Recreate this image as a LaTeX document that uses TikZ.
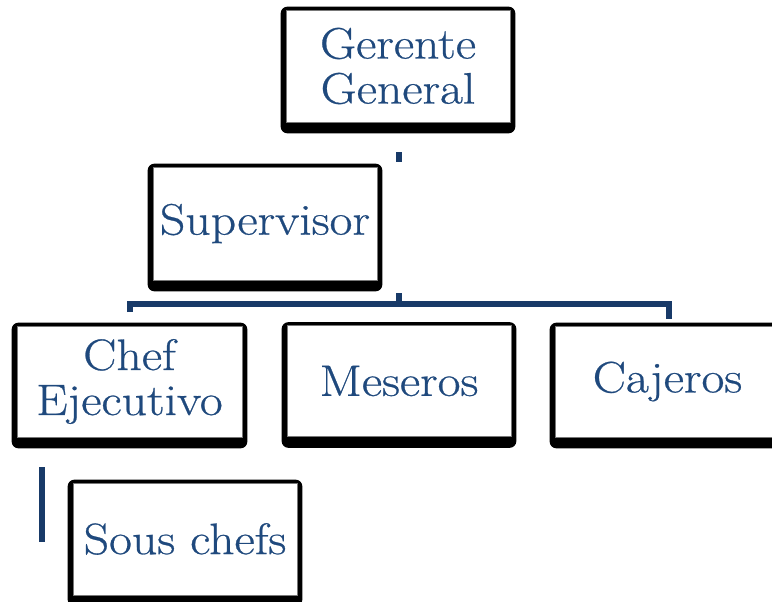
\documentclass[tikz,border=0pt]{standalone}
\usepackage{fontspec}
\setmainfont{Latin Modern Roman}[FakeStretch=1.13, FakeBold=0.6]
\usetikzlibrary{backgrounds}
\definecolor{txtblue}{RGB}{31,73,125}
\definecolor{lineblue}{RGB}{24,58,104}
\definecolor{edgegray}{RGB}{120,120,120}
\tikzset{
  box/.style={draw=edgegray, line width=0.8pt, fill=white, text=txtblue,
    minimum width=224pt, minimum height=112pt, inner sep=0pt,
    align=center, font=\fontsize{44}{45}\selectfont},
  conn/.style={draw=lineblue, line width=6pt},
  stub/.style={draw=lineblue, line width=5.5pt}
}
\newcommand{\boxshadow}[1]{%
  \fill[black, rounded corners=7pt] ([xshift=-5pt,yshift=3pt]#1.north west) rectangle ([xshift=5pt,yshift=-11pt]#1.south east);}
\begin{document}
\begin{tikzpicture}[x=1pt,y=-1pt]
\useasboundingbox (0,0) rectangle (772,602);
\node[box] (gg) at (398,66) {Gerente\\General};
\node[box, minimum height=113pt] (sup) at (265,223.5) {Supervisor};
\node[box, minimum width=225pt, minimum height=111pt] (chef) at (129.5,381.5) {Chef\\Ejecutivo};
\node[box, minimum height=111pt] (mes) at (399,381) {Meseros};
\node[box, minimum width=225pt, minimum height=111pt] (caj) at (667.5,381.5) {Cajeros};
\node[box] (sous) at (185,539) {Sous chefs};
\begin{scope}[on background layer]
  \boxshadow{gg}\boxshadow{sup}\boxshadow{chef}\boxshadow{mes}\boxshadow{caj}\boxshadow{sous}
\end{scope}
% connectors
\coordinate (ggA) at (399,152);
\coordinate (ggB) at (399,162);
\coordinate (bar) at (399,303.5);
\coordinate (barS) at (399,293);
\coordinate (chefT) at (129.5,312);
\coordinate (cajT) at (668.5,319);
\coordinate (sousA) at (42,467);
\coordinate (sousB) at (42,542);
\draw[stub] (ggA) -- (ggB);
\draw[stub] (barS) -- (bar);
\draw[conn] (chefT) -- (chefT |- bar) -- (cajT |- bar) -- (cajT);
\draw[conn] (sousA) -- (sousB);
\end{tikzpicture}
\end{document}
